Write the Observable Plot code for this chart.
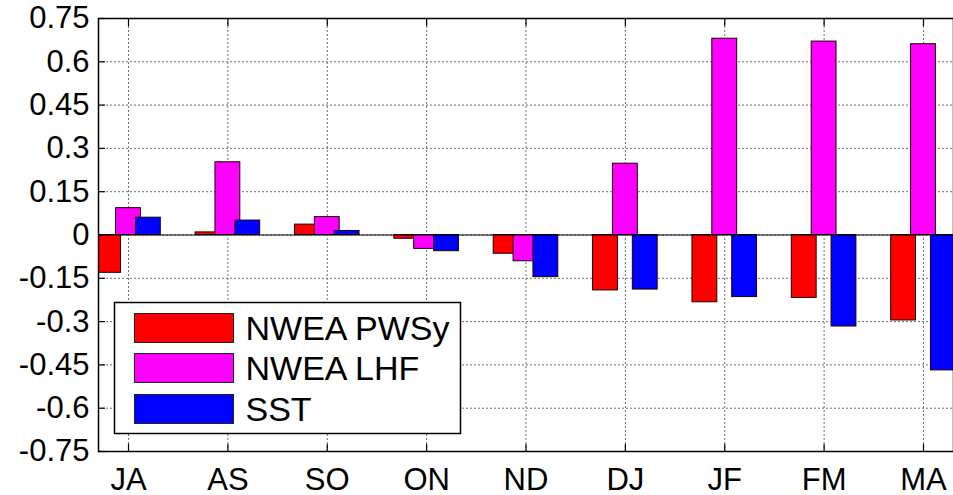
<!DOCTYPE html>
<html><head><meta charset="utf-8">
<script src="https://cdn.jsdelivr.net/npm/d3@7"></script>
<script src="https://cdn.jsdelivr.net/npm/@observablehq/plot@0.6"></script>
<style>
body{margin:0;overflow:hidden;background:#fff;font-family:"Liberation Sans",Arial,sans-serif;}
#wrap{position:relative;width:953px;height:495px;}
</style></head>
<body>
<div id="wrap"></div>
<script>
const months = ["JA","AS","SO","ON","ND","DJ","JF","FM","MA"];
const pwsy = [-0.131, 0.009, 0.036, -0.013, -0.065, -0.192, -0.233, -0.218, -0.296];
const lhf  = [0.093, 0.252, 0.062, -0.048, -0.091, 0.247, 0.680, 0.670, 0.661];
const sst  = [0.060, 0.050, 0.014, -0.056, -0.146, -0.189, -0.215, -0.317, -0.469];
const seriesNames = ["NWEA PWSy", "NWEA LHF", "SST"];
const seriesColors = ["#ff0000", "#ff00ff", "#0000ff"];
const yTicks = [-0.75,-0.6,-0.45,-0.3,-0.15,0,0.15,0.3,0.45,0.6,0.75];

const OFF = 0.2, W = 0.25;
const xPos = months.map((m,i)=>i+1);
const series = [pwsy, lhf, sst].map((vals,k)=>({
  name: seriesNames[k], color: seriesColors[k],
  rows: vals.map((v,i)=>({x1: i+1+(k-1)*OFF-W/2, x2: i+1+(k-1)*OFF+W/2, v}))
}));
const fmt = d => String(+d.toFixed(2));
const FS = 31;
const gridStyle = {stroke: "#6e6e6e", strokeOpacity: 1, strokeWidth: 1, strokeDasharray: "2,2"};

const chart = Plot.plot({
  width: 953, height: 495,
  marginLeft: 98, marginRight: 0, marginTop: 18, marginBottom: 44,
  style: {fontSize: FS + "px", fontFamily: "'Liberation Sans', Arial, sans-serif", color: "#000", background: "#fff", overflow: "visible"},
  x: {domain: [0.698, 9.302]},
  y: {domain: [-0.75, 0.75]},
  marks: [
    Plot.ruleY(yTicks, gridStyle),
    Plot.ruleX(xPos, gridStyle),
    ...series.map(s => Plot.rectY(s.rows, {x1: "x1", x2: "x2", y1: 0, y2: "v", fill: s.color, stroke: "#1a0000", strokeWidth: 1, clip: true})),
    Plot.ruleY([0], {stroke: "#000", strokeWidth: 1.2}),
    Plot.axisY(yTicks, {tickSize: 0, tickPadding: 9, tickFormat: fmt, label: null, fontSize: FS}),
    Plot.tickY(yTicks, {stroke: "#000", strokeWidth: 1.2, insetRight: 953 - 98 - 7}),
    Plot.axisX(xPos, {tickSize: 0, tickPadding: 16, tickFormat: d => months[d-1], label: null, fontSize: FS}),
    Plot.axisX(xPos, {anchor: "bottom", tickSize: 7, dy: -7, fill: "none", stroke: "#000", strokeWidth: 1.2, label: null}),
    Plot.axisX(xPos, {anchor: "top", tickSize: 7, dy: 7, fill: "none", stroke: "#000", strokeWidth: 1.2, label: null}),
    Plot.frame({stroke: "#000", strokeWidth: 1.5})
  ]
});
document.getElementById("wrap").appendChild(chart);

// Legend drawn inside the SVG
const lg = d3.select(chart).append("g").attr("aria-label", "legend").attr("transform", "translate(114.5,302.5)");
lg.append("rect").attr("width", 346).attr("height", 131).attr("fill", "#fff").attr("stroke", "#000").attr("stroke-width", 1.5);
const rowTops = [11, 51, 92];
series.forEach((s, k) => {
  const g = lg.append("g").attr("transform", `translate(20,${rowTops[k]})`);
  g.append("rect").attr("width", 99).attr("height", 29).attr("fill", s.color).attr("stroke", "#222").attr("stroke-width", 1);
  g.append("text").attr("x", 111).attr("y", 14.5).attr("dy", "0.36em")
    .attr("text-anchor", "start").attr("font-size", 34).attr("fill", "#000").text(s.name);
});
</script>
</body></html>
